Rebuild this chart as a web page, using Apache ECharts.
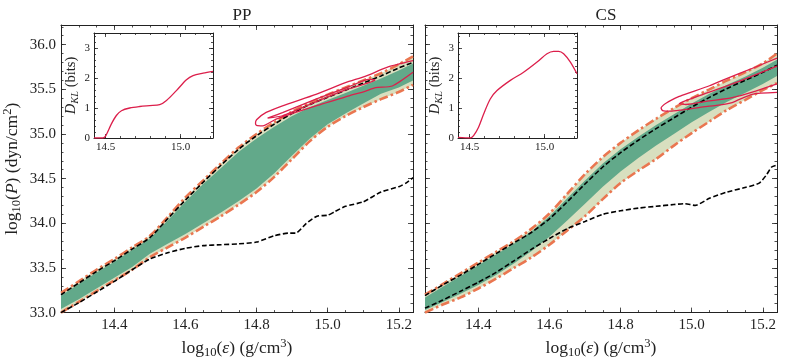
<!DOCTYPE html>
<html>
<head>
<meta charset="utf-8">
<script src="https://cdn.jsdelivr.net/npm/echarts@6/dist/echarts.min.js"></script>
<style>
html, body { margin: 0; padding: 0; background: #fff; }
#chart { width: 789px; height: 364px; }
</style>
</head>
<body>
<div id="chart"></div>
<script>
// energy density grid shared by the bands, log10(eps)
const epsGrid = [14.25, 14.30, 14.35, 14.40, 14.45, 14.50, 14.55, 14.60, 14.65, 14.70, 14.75,
                 14.80, 14.85, 14.90, 14.95, 15.00, 15.05, 15.10, 15.15, 15.20, 15.24]

// PP panel
const ppOuterHi = [33.22, 33.35, 33.48, 33.60, 33.73, 33.86, 34.07, 34.29, 34.48, 34.67, 34.85,
                   35.00, 35.13, 35.25, 35.35, 35.44, 35.52, 35.60, 35.68, 35.78, 35.87]
const ppOuterLo = [33.00, 33.12, 33.24, 33.36, 33.48, 33.62, 33.73, 33.84, 33.96, 34.08, 34.21,
                   34.35, 34.52, 34.72, 34.92, 35.08, 35.20, 35.30, 35.39, 35.47, 35.55]
const ppInnerHi = [33.19, 33.32, 33.45, 33.57, 33.70, 33.83, 34.03, 34.24, 34.44, 34.62, 34.80,
                   34.95, 35.08, 35.20, 35.30, 35.38, 35.46, 35.54, 35.62, 35.71, 35.79]
const ppInnerLo = [33.04, 33.15, 33.27, 33.39, 33.51, 33.66, 33.77, 33.88, 34.00, 34.12, 34.25,
                   34.39, 34.56, 34.76, 34.95, 35.11, 35.23, 35.34, 35.45, 35.52, 35.60]
const ppStiff = [33.20, 33.33, 33.46, 33.58, 33.71, 33.84, 34.05, 34.26, 34.46, 34.65, 34.83,
                 34.98, 35.11, 35.23, 35.33, 35.41, 35.49, 35.57, 35.65, 35.74, 35.80]
const ppSoftEps = [14.25, 14.30, 14.35, 14.40, 14.45, 14.50, 14.55, 14.60, 14.65, 14.70, 14.75, 14.80,
                   14.85, 14.89, 14.91, 14.94, 14.97, 15.00, 15.02, 15.05, 15.10, 15.15, 15.20, 15.22, 15.24]
const ppSoft = [33.00, 33.11, 33.23, 33.35, 33.48, 33.60, 33.67, 33.72, 33.75, 33.76, 33.77, 33.79,
                33.86, 33.89, 33.89, 34.00, 34.08, 34.09, 34.13, 34.19, 34.24, 34.35, 34.41, 34.45, 34.51]
const ppContour95 = [[15.24, 35.82], [15.17, 35.75], [15.107, 35.648], [15.05, 35.574], [14.967, 35.444],
                     [14.873, 35.315], [14.827, 35.241], [14.80, 35.16], [14.797, 35.12], [14.80, 35.095],
                     [14.817, 35.09], [14.855, 35.167], [14.967, 35.315], [15.06, 35.426], [15.107, 35.481],
                     [15.135, 35.519], [15.182, 35.537], [15.24, 35.69]]
const ppContour68 = [[14.831, 35.178], [14.873, 35.24], [14.967, 35.39], [15.06, 35.53], [15.116, 35.611],
                     [15.133, 35.604], [15.116, 35.574], [15.06, 35.507], [14.967, 35.36], [14.873, 35.204],
                     [14.831, 35.178]]
const ppDklEps = [14.423, 14.483, 14.501, 14.539, 14.572, 14.606, 14.661, 14.728, 14.794, 14.861,
                  14.906, 14.972, 15.039, 15.083, 15.15, 15.216]
const ppDkl = [0, 0, 0.07, 0.47, 0.75, 0.91, 1.0, 1.05, 1.08, 1.11, 1.25, 1.58, 1.94, 2.08, 2.16, 2.22]

// CS panel
const csOuterHi = [33.20, 33.32, 33.44, 33.56, 33.68, 33.80, 33.94, 34.11, 34.33, 34.55, 34.74,
                   34.90, 35.04, 35.17, 35.29, 35.40, 35.50, 35.60, 35.69, 35.79, 35.90]
const csOuterLo = [33.00, 33.09, 33.17, 33.27, 33.38, 33.50, 33.62, 33.76, 33.92, 34.08, 34.27,
                   34.45, 34.59, 34.72, 34.87, 35.01, 35.14, 35.27, 35.38, 35.49, 35.57]
const csInnerHi = [33.17, 33.29, 33.41, 33.53, 33.65, 33.77, 33.91, 34.08, 34.28, 34.48, 34.67,
                   34.83, 34.97, 35.10, 35.22, 35.34, 35.45, 35.55, 35.64, 35.74, 35.83]
const csInnerLo = [33.03, 33.12, 33.21, 33.31, 33.42, 33.55, 33.69, 33.85, 34.03, 34.22, 34.41,
                   34.58, 34.73, 34.87, 35.00, 35.13, 35.25, 35.36, 35.46, 35.56, 35.65]
const csStiff = [33.19, 33.31, 33.42, 33.54, 33.66, 33.78, 33.90, 34.05, 34.24, 34.44, 34.63,
                 34.79, 34.93, 35.06, 35.18, 35.30, 35.41, 35.51, 35.60, 35.69, 35.77]
const csSoftEps = [14.25, 14.30, 14.35, 14.40, 14.45, 14.50, 14.55, 14.60, 14.65, 14.70, 14.75, 14.80,
                   14.85, 14.90, 14.95, 14.98, 15.01, 15.05, 15.10, 15.15, 15.19, 15.21, 15.225, 15.24]
const csSoft = [33.05, 33.14, 33.24, 33.34, 33.45, 33.58, 33.71, 33.83, 33.94, 34.02, 34.10, 34.14,
                34.17, 34.19, 34.21, 34.22, 34.20, 34.28, 34.35, 34.40, 34.45, 34.54, 34.63, 34.65]
const csContour95 = [[15.24, 35.85], [15.18, 35.75], [15.086, 35.60], [15.05, 35.54], [14.993, 35.46],
                     [14.965, 35.42], [14.93, 35.35], [14.914, 35.29], [14.918, 35.262], [14.94, 35.255],
                     [14.97, 35.268], [15.02, 35.296], [15.07, 35.32], [15.114, 35.352], [15.17, 35.444],
                     [15.24, 35.465]]
const csContour68 = [[15.24, 35.76], [15.114, 35.56], [15.02, 35.426], [14.975, 35.36], [14.965, 35.34],
                     [14.984, 35.33], [15.05, 35.37], [15.114, 35.407], [15.18, 35.48], [15.24, 35.56]]
const csDklEps = [14.423, 14.505, 14.527, 14.56, 14.594, 14.638, 14.683, 14.772, 14.86, 14.95,
                  15.016, 15.06, 15.094, 15.127, 15.172, 15.216]
const csDkl = [0.02, 0, 0.08, 0.36, 0.8, 1.3, 1.58, 1.92, 2.19, 2.53, 2.81, 2.89, 2.89, 2.81, 2.53, 2.14]

// tick labels
const mainXTicks = [14.4, 14.6, 14.8, 15.0, 15.2]
const mainYTicks = [33.0, 33.5, 34.0, 34.5, 35.0, 35.5, 36.0]
const insetXTicks = [14.5, 15.0]
const insetYTicks = [0, 1, 2, 3]

function steps(a, b, d) {
  let out = []
  for (let k = Math.round(a / d); k <= Math.round(b / d); k++) out.push(+(k * d).toFixed(3))
  return out
}
const mainXMinor = steps(14.25, 15.2, 0.05)
const mainYMinor = steps(33.0, 36.2, 0.1)
const insetXMinor = steps(14.5, 15.2, 0.1)
const insetYMinor = steps(0, 3.4, 0.2)

const serif = 'Liberation Serif'
const ink = '#222'
const green = '#62a98a'
const beige = '#d8dfbf'
const orange = '#ea7650'
const crimson = '#dc1f4b'

let xAxes = []
let yAxes = []

function richText(size) {
  const sub = size * 0.72
  return {
    n: { fontFamily: serif, fontSize: size, color: ink, lineHeight: size + 4 },
    i: { fontFamily: serif, fontSize: size, color: ink, fontStyle: 'italic', lineHeight: size + 4 },
    s: { fontFamily: serif, fontSize: sub, color: ink, lineHeight: sub, verticalAlign: 'bottom' },
    si: { fontFamily: serif, fontSize: sub, color: ink, fontStyle: 'italic', lineHeight: sub, verticalAlign: 'bottom' },
    p: { fontFamily: serif, fontSize: sub, color: ink, lineHeight: sub, verticalAlign: 'top' }
  }
}

// four axes per side pair: labelled major, minor, mirrored major, mirrored minor
function addAxes(list, gi, sides, range, major, minor, cfg) {
  let first = list.length
  sides.forEach((pos, s) => {
    [major, minor].forEach((vals, m) => {
      let ax = {
        type: 'value', gridIndex: gi, position: pos, min: range[0], max: range[1],
        splitLine: { show: false },
        axisLine: { show: m === 0, onZero: false, lineStyle: { color: ink, width: 1 } },
        axisTick: { show: true, inside: true, customValues: vals, length: m === 0 ? cfg.tick : cfg.tick / 2,
                    lineStyle: { color: ink, width: 0.8 } },
        axisLabel: { show: s === 0 && m === 0, customValues: major, formatter: cfg.fmt,
                     fontFamily: serif, fontSize: cfg.font, color: ink, margin: cfg.margin }
      }
      if (s === 0 && m === 0 && cfg.name) {
        ax.name = cfg.name
        ax.nameLocation = 'middle'
        ax.nameGap = cfg.nameGap
        ax.nameTextStyle = { rich: richText(cfg.nameFont) }
      }
      list.push(ax)
    })
  })
  return first
}

const xName = '{n|log}{s|10}{n|(}{i|ε}{n|) (g/cm}{p|3}{n|)}'
const yName = '{n|log}{s|10}{n|(}{i|P}{n|) (dyn/cm}{p|2}{n|)}'
const dklName = '{i|D}{si|KL}{n| (bits)}'

const grids = [
  { left: 61, top: 25, width: 352, height: 290 },
  { left: 425, top: 25, width: 352, height: 290 },
  { left: 94, top: 33, width: 119, height: 105, show: true, backgroundColor: '#fff', borderWidth: 0 },
  { left: 458, top: 33, width: 119, height: 105, show: true, backgroundColor: '#fff', borderWidth: 0 }
]

const mainX = { tick: 5, font: 15, margin: 5, fmt: v => v.toFixed(1), name: xName, nameGap: 16, nameFont: 17.5 }
const mainY = { tick: 5, font: 15, margin: 5, fmt: v => v.toFixed(1) }
const insX = { tick: 4, font: 11, margin: 4, fmt: v => v.toFixed(1) }
const insY = { tick: 4, font: 11, margin: 4, fmt: v => String(v), name: dklName, nameGap: 11, nameFont: 14.5 }

let ax = []
// main panels
ax.push([addAxes(xAxes, 0, ['bottom', 'top'], [14.25, 15.24], mainXTicks, mainXMinor, mainX),
         addAxes(yAxes, 0, ['left', 'right'], [33.0, 36.22], mainYTicks, mainYMinor,
                 Object.assign({}, mainY, { name: yName, nameGap: 38, nameFont: 17.5 }))])
ax.push([addAxes(xAxes, 1, ['bottom', 'top'], [14.25, 15.24], mainXTicks, mainXMinor, mainX),
         addAxes(yAxes, 1, ['left', 'right'], [33.0, 36.22], mainYTicks, mainYMinor,
                 Object.assign({}, mainY, { fmt: () => '' }))])
// insets
ax.push([addAxes(xAxes, 2, ['bottom', 'top'], [14.423, 15.216], insetXTicks, insetXMinor, insX),
         addAxes(yAxes, 2, ['left', 'right'], [0, 3.5], insetYTicks, insetYMinor, insY)])
ax.push([addAxes(xAxes, 3, ['bottom', 'top'], [14.423, 15.216], insetXTicks, insetXMinor, insX),
         addAxes(yAxes, 3, ['left', 'right'], [0, 3.5], insetYTicks, insetYMinor, insY)])

function band(p, xs, lo, hi, color, z) {
  return {
    type: 'custom', xAxisIndex: ax[p][0], yAxisIndex: ax[p][1], z: z, silent: true, clip: true,
    data: xs.map((x, i) => [x, lo[i], hi[i]]),
    renderItem: (params, api) => {
      if (params.dataIndex !== 0) return null
      let pts = []
      xs.forEach((x, i) => pts.push(api.coord([x, hi[i]])))
      for (let i = xs.length - 1; i >= 0; i--) pts.push(api.coord([xs[i], lo[i]]))
      return { type: 'polygon', shape: { points: pts }, style: { fill: color } }
    }
  }
}

function line(p, pts, color, width, dash, z, smooth) {
  return {
    type: 'line', xAxisIndex: ax[p][0], yAxisIndex: ax[p][1], z: z, silent: true,
    showSymbol: false, symbol: 'none', smooth: smooth, clip: true,
    data: pts,
    lineStyle: { color: color, width: width, type: dash }
  }
}

const zip = (xs, ys) => xs.map((x, i) => [x, ys[i]])
const dashDot = [9, 3, 2.5, 3]
const dashed = [5, 2.5]

let series = []
function panel(p, outerHi, outerLo, innerHi, innerLo, stiff, softEps, soft, c95, c68) {
  series.push(band(p, epsGrid, outerLo, outerHi, beige, 1))
  series.push(band(p, epsGrid, innerLo, innerHi, green, 2))
  series.push(line(p, zip(epsGrid, outerHi), orange, 2.6, dashDot, 3, 0.3))
  series.push(line(p, zip(epsGrid, outerLo), orange, 2.6, dashDot, 3, 0.3))
  series.push(line(p, zip(epsGrid, stiff), '#000', 1.6, dashed, 4, 0.3))
  series.push(line(p, zip(softEps, soft), '#000', 1.6, dashed, 4, 0.2))
  series.push(line(p, c95, crimson, 1.3, 'solid', 5, 0.2))
  series.push(line(p, c68, crimson, 1.3, 'solid', 5, 0.2))
}
panel(0, ppOuterHi, ppOuterLo, ppInnerHi, ppInnerLo, ppStiff, ppSoftEps, ppSoft, ppContour95, ppContour68)
panel(1, csOuterHi, csOuterLo, csInnerHi, csInnerLo, csStiff, csSoftEps, csSoft, csContour95, csContour68)
series.push(line(2, zip(ppDklEps, ppDkl), crimson, 1.3, 'solid', 5, 0.3))
series.push(line(3, zip(csDklEps, csDkl), crimson, 1.3, 'solid', 5, 0.3))

let myChart = echarts.init(document.getElementById('chart'))
myChart.setOption({
  animation: false,
  backgroundColor: '#fff',
  title: [
    { text: 'PP', left: 237, top: 2, textAlign: 'center',
      textStyle: { fontFamily: serif, fontSize: 17, fontWeight: 'normal', color: ink } },
    { text: 'CS', left: 601, top: 2, textAlign: 'center',
      textStyle: { fontFamily: serif, fontSize: 17, fontWeight: 'normal', color: ink } }
  ],
  grid: grids,
  xAxis: xAxes,
  yAxis: yAxes,
  series: series
})
</script>
</body>
</html>
